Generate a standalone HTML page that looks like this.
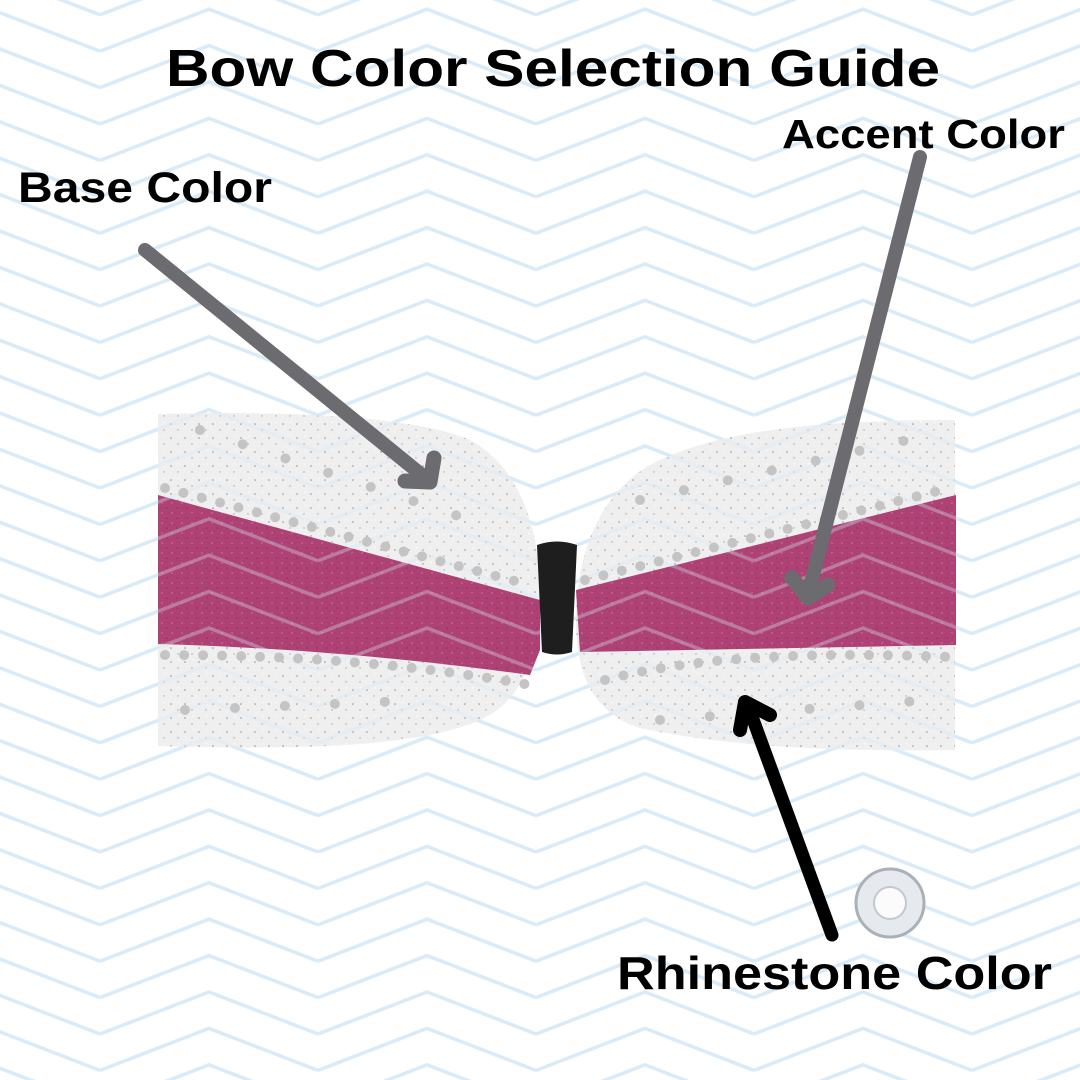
<!DOCTYPE html>
<html><head><meta charset="utf-8"><style>
html,body{margin:0;padding:0;background:#fff}
svg{display:block}
text{font-family:"Liberation Sans",sans-serif;font-weight:bold;fill:#000}
</style></head><body>
<svg width="1080" height="1080" viewBox="0 0 1080 1080" xmlns="http://www.w3.org/2000/svg">
<defs>
<pattern id="zz" width="218" height="36.4" patternUnits="userSpaceOnUse" patternTransform="translate(100,233.2)">
<g fill="none" stroke="#d9ebf8" stroke-width="3.5">
<path d="M0,0 L109,-42 L218,0"/>
<path d="M0,36.4 L109,-5.6 L218,36.4"/>
<path d="M0,72.8 L109,30.8 L218,72.8"/>
<path d="M0,-36.4 L109,-78.4 L218,-36.4"/>
</g>
</pattern>
<pattern id="gl" width="14" height="14" patternUnits="userSpaceOnUse">
<rect width="14" height="14" fill="#eeeeee"/>
<circle cx="3" cy="4" r="0.8" fill="#8a8a8a"/><circle cx="10" cy="10" r="0.7" fill="#a0a0a0"/><circle cx="11" cy="2" r="0.7" fill="#fff"/>
</pattern>
<pattern id="pk" width="10" height="10" patternUnits="userSpaceOnUse">
<rect width="10" height="10" fill="#a8346a"/>
<circle cx="2" cy="3" r="0.9" fill="#c9608f"/><circle cx="7" cy="8" r="0.8" fill="#82264f"/>
</pattern>
</defs>
<rect width="1080" height="1080" fill="#fff"/>
<rect width="1080" height="1080" fill="url(#zz)"/>

<g opacity="0.93">
<!-- left wing -->
<path d="M158,414 C300,410 420,418 470,440 C525,470 540,540 540,590 C540,640 530,690 490,715 C430,748 300,750 158,746 Z" fill="url(#gl)"/>
<!-- right wing -->
<path d="M955,420 L955,750 C820,752 720,745 640,728 C590,712 576,670 576,620 C576,570 590,500 650,465 C720,428 830,420 955,420 Z" fill="url(#gl)"/>
<!-- pink bands -->
<path d="M158,495 L540,600 L540,650 L530,675 C420,660 300,648 158,644 Z" fill="url(#pk)"/>
<path d="M576,590 L956,495 L956,645 L580,652 Z" fill="url(#pk)"/>
</g>
<rect width="1080" height="1080" fill="url(#zz)" opacity="0.35"/>
<!-- rhinestone rows -->
<g fill="none" stroke="#c4c4c4" stroke-width="10" stroke-linecap="round" stroke-dasharray="0 19">
<path d="M165,488 L530,585"/>
<path d="M165,655 C300,655 420,665 530,685"/>
<path d="M585,580 L950,488"/>
<path d="M605,680 C700,655 820,652 950,657"/>
<path d="M200,430 L470,520" stroke-dasharray="0 45"/>
<path d="M185,710 L430,700" stroke-dasharray="0 50"/>
<path d="M640,500 L930,435" stroke-dasharray="0 45"/>
<path d="M660,720 L930,700" stroke-dasharray="0 50"/>
</g>
<!-- knot -->
<path d="M537,545 Q557,538 577,545 L572,652 Q557,657 542,652 Z" fill="#1e1e1e"/>

<!-- arrows -->
<g stroke="#6b6b70" stroke-width="14" fill="none" stroke-linecap="round" stroke-linejoin="round">
<line x1="145" y1="250" x2="428" y2="480"/>
<polyline points="405,481 430,482 434,458" stroke-width="15"/>
<line x1="920" y1="157" x2="808" y2="595"/>
<polyline points="792,578 808,598 828,585" stroke-width="15"/>
</g>
<g stroke="#000" stroke-width="13" fill="none" stroke-linecap="round" stroke-linejoin="round">
<line x1="832" y1="935" x2="747" y2="703"/>
<polyline points="740,730 745,702 770,715" stroke-width="14"/>
</g>
<!-- gem -->
<circle cx="890" cy="903" r="34" fill="#e6eaee" stroke="#a9b0b8" stroke-width="3"/>
<circle cx="890" cy="903" r="16" fill="#fbfbfb" stroke="#c3c8ce" stroke-width="2"/>

<text x="166" y="86" font-size="52" textLength="774" lengthAdjust="spacingAndGlyphs">Bow Color Selection Guide</text>
<text x="18" y="202" font-size="43" textLength="254" lengthAdjust="spacingAndGlyphs">Base Color</text>
<text x="782" y="148" font-size="41" textLength="283" lengthAdjust="spacingAndGlyphs">Accent Color</text>
<text x="617" y="989" font-size="46" textLength="435" lengthAdjust="spacingAndGlyphs">Rhinestone Color</text>
</svg>
</body></html>
